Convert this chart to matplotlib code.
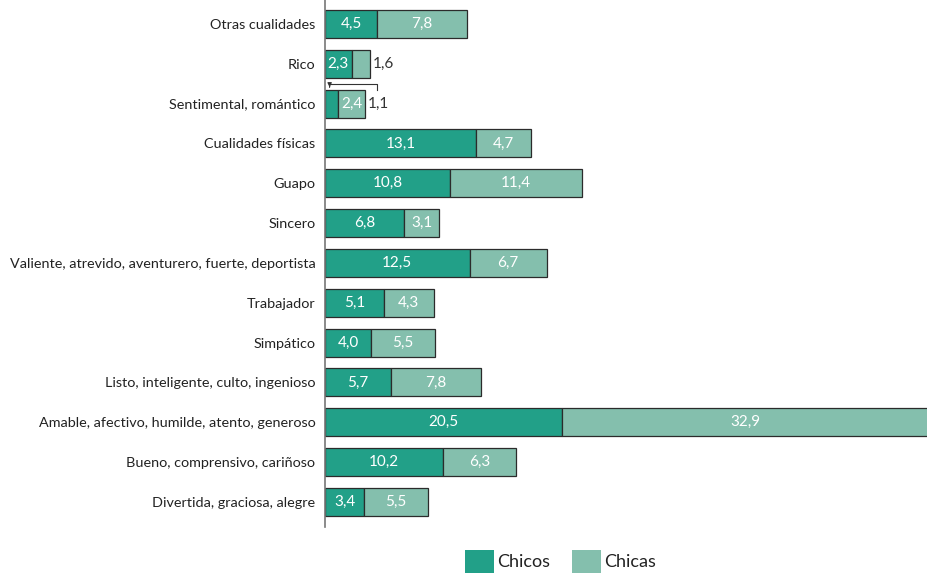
import numpy as np
import matplotlib.pyplot as plt
from matplotlib.patches import Patch

# categories from bottom to top
categorias = [
    "Divertida, graciosa, alegre",
    "Bueno, comprensivo, cariñoso",
    "Amable, afectivo, humilde, atento, generoso",
    "Listo, inteligente, culto, ingenioso",
    "Simpático",
    "Trabajador",
    "Valiente, atrevido, aventurero, fuerte, deportista",
    "Sincero",
    "Guapo",
    "Cualidades físicas",
    "Sentimental, romántico",
    "Rico",
    "Otras cualidades",
]
chicos = [3.4, 10.2, 20.5, 5.7, 4.0, 5.1, 12.5, 6.8, 10.8, 13.1, 1.1, 2.3, 4.5]
chicas = [5.5, 6.3, 32.9, 7.8, 5.5, 4.3, 6.7, 3.1, 11.4, 4.7, 2.4, 1.6, 7.8]

COL_CHICOS = '#22a088'
COL_CHICAS = '#84bfad'
EDGE = '#2b2b2b'
TXT = '#333333'


def fmt(v):
    return f"{v:.1f}".replace('.', ',')


def main():
    plt.rcParams['font.family'] = ['Lato', 'DejaVu Sans']
    fig = plt.figure(figsize=(9.28, 5.75), dpi=100)
    ax = fig.add_axes([325 / 928, 1 - 527 / 575, 1 - 325 / 928, 527 / 575])

    y = np.arange(len(categorias))
    ax.barh(y, chicos, height=0.7, color=COL_CHICOS, edgecolor=EDGE, linewidth=0.9)
    ax.barh(y, chicas, left=chicos, height=0.7, color=COL_CHICAS, edgecolor=EDGE, linewidth=0.9)

    xmax = (928 - 325) / 11.56
    ax.set_xlim(0, xmax)
    ax.set_ylim(-0.63, 12.6)

    for i, (a, b) in enumerate(zip(chicos, chicas)):
        # chicos label
        if a >= 2:
            ax.text(a / 2, i, fmt(a), ha='center', va='center', color='white', fontsize=11)
        # chicas label
        if b >= 2:
            right = min(a + b, xmax)
            ax.text((a + right) / 2, i, fmt(b), ha='center', va='center', color='white', fontsize=11)
        else:
            ax.text(a + b + 0.2, i, fmt(b), ha='left', va='center', color=TXT, fontsize=11)

    # sentimental: chicos value too small, label outside with connector
    k = categorias.index("Sentimental, romántico")
    tot = chicos[k] + chicas[k]
    ax.text(tot + 0.2, k, fmt(chicos[k]), ha='left', va='center', color=TXT, fontsize=11)
    ax.plot([4.5, 4.5, 0.4], [k + 0.33, k + 0.48, k + 0.48], color=TXT, lw=0.8, clip_on=False)
    ax.annotate('', xy=(0.4, k + 0.34), xytext=(0.4, k + 0.49),
                arrowprops=dict(arrowstyle='-|>', color=TXT, lw=0.8, mutation_scale=6))

    ax.set_yticks(y)
    ax.set_yticklabels(categorias, fontsize=10.4, color='#222222')
    ax.tick_params(axis='y', length=0, pad=7)
    ax.set_xticks([])
    for s in ['top', 'right', 'bottom']:
        ax.spines[s].set_visible(False)
    ax.spines['left'].set_color('#777777')
    ax.spines['left'].set_linewidth(1.2)

    handles = [Patch(facecolor=COL_CHICOS, label='Chicos'),
               Patch(facecolor=COL_CHICAS, label='Chicas')]
    fig.legend(handles=handles, loc='lower left', bbox_to_anchor=(449 / 928, -0.025),
               ncol=2, frameon=False, fontsize=13, handlelength=1.6, handleheight=1.6,
               handletextpad=0.15, columnspacing=1.25, labelcolor='#222222')

    fig.savefig('out.png', dpi=100)


if __name__ == "__main__":
    main()
